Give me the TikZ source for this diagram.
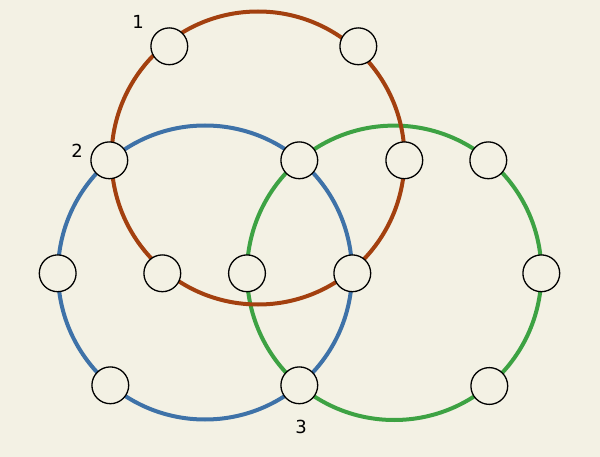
\documentclass[tikz,border=0pt]{standalone}
\usepackage{fontspec}
\setmainfont{DejaVu Sans}
\definecolor{bg}{HTML}{F3F1E4}
\definecolor{rust}{HTML}{A3400F}
\definecolor{steel}{HTML}{3E72A8}
\definecolor{leaf}{HTML}{3DA243}
\begin{document}
\begin{tikzpicture}[x=1pt,y=-1pt,
  spot/.style={circle, draw=black, line width=1.3pt, fill=bg, minimum size=36.8pt, inner sep=0pt},
  ring/.style={line width=4pt},
  lbl/.style={font=\fontsize{18}{18}\selectfont, inner sep=0pt, text=black}]
\fill[bg] (0,0) rectangle (600,457);
\useasboundingbox (0,0) rectangle (600,457);
% rings
\draw[ring, steel] (205,272.5) circle[radius=147];
\draw[ring, leaf] (394.2,272.8) circle[radius=147.2];
\draw[ring, rust] (258,158) circle[radius=146.5];
% spots
\node[spot] (n1) at (169.3,46.3) {};
\node[spot] (n2) at (358.3,46.3) {};
\node[spot] (n3) at (109.3,160.3) {};
\node[spot] (n4) at (299.3,160.3) {};
\node[spot] (n5) at (404.3,160.3) {};
\node[spot] (n6) at (488.3,160.3) {};
\node[spot] (n7) at (57.7,273.3) {};
\node[spot] (n8) at (162.3,273.3) {};
\node[spot] (n9) at (247,273.3) {};
\node[spot] (n10) at (352.3,273.3) {};
\node[spot] (n11) at (541.3,273.3) {};
\node[spot] (n12) at (110.3,385.3) {};
\node[spot] (n13) at (299.3,385.3) {};
\node[spot] (n14) at (489.3,386) {};
% labels
\node[lbl] (l1) at (138,22) {1};
\node[lbl] (l2) at (77,151) {2};
\node[lbl] (l3) at (301,426.5) {3};
\end{tikzpicture}
\end{document}
